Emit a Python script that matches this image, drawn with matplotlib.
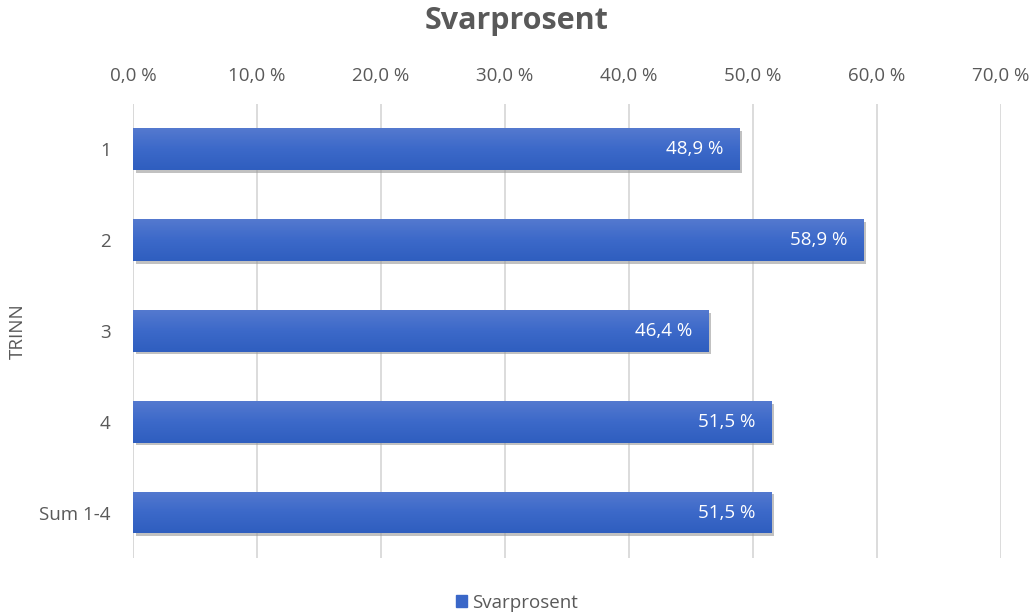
import numpy as np
import matplotlib.pyplot as plt
import matplotlib.patheffects as pe
from matplotlib.patches import Patch
from matplotlib.colors import LinearSegmentedColormap

categories = ['1', '2', '3', '4', 'Sum 1-4']
values = [48.9, 58.9, 46.4, 51.5, 51.5]
xticks = [0, 10, 20, 30, 40, 50, 60, 70]

plt.rcParams['font.family'] = ['Open Sans', 'DejaVu Sans']
grey = '#595959'

fig = plt.figure(figsize=(10.35, 6.16), dpi=100)
ax = fig.add_axes([133/1035, 58/616, (1001-133)/1035, (558-103.5)/616])

y = np.arange(len(categories))
bars = ax.barh(y, values, height=0.46, color='#3a67c8', zorder=3,
               path_effects=[pe.SimplePatchShadow(offset=(2, -2), shadow_rgbFace='#999999', alpha=0.6), pe.Normal()])

# vertical gradient on each bar
grad = np.linspace(0, 1, 64).reshape(-1, 1)
cmap = LinearSegmentedColormap.from_list('g', ['#5479cf', '#3c69c9', '#2f5ebf'])
for b in bars:
    x0, y0 = b.get_x(), b.get_y()
    w, h = b.get_width(), b.get_height()
    im = ax.imshow(grad, extent=(x0, x0 + w, y0 + h, y0), aspect='auto', cmap=cmap, zorder=4)
    im.set_clip_path(b)

for yi, v in zip(y, values):
    ax.text(v - 1.3, yi, f'{v:.1f} %'.replace('.', ','), ha='right', va='center',
            color='white', fontsize=13.5, zorder=5)

ax.set_xlim(0, 70)
ax.set_ylim(4.5, -0.5)
ax.set_yticks(y)
ax.set_yticklabels(categories)
ax.set_xticks(xticks)
ax.set_xticklabels([f'{t:.1f} %'.replace('.', ',') for t in xticks])
ax.xaxis.tick_top()
ax.tick_params(axis='both', length=0, colors=grey, labelsize=13.5)
ax.tick_params(axis='x', pad=13)
ax.tick_params(axis='y', pad=16)
ax.grid(axis='x', color='#d9d9d9', linewidth=1.3, zorder=0)
for s in ax.spines.values():
    s.set_visible(False)
ax.axvline(0, color='#d9d9d9', linewidth=1.3, zorder=1)

fig.text(18/1035, 1 - 331/616, 'TRINN', rotation=90, ha='center', va='center',
         color=grey, fontsize=13.5)
fig.suptitle('Svarprosent', x=517/1035, y=1 - 21/616, va='center',
             fontsize=22, fontweight='bold', color=grey)

fig.legend(handles=[Patch(color='#3a67c8', label='Svarprosent')], loc='center',
           bbox_to_anchor=(517/1035, 1 - 603/616), frameon=False, fontsize=13.5,
           labelcolor=grey, handlelength=0.6, handleheight=0.6, handletextpad=0.3)

fig.savefig('out.png', dpi=100)
